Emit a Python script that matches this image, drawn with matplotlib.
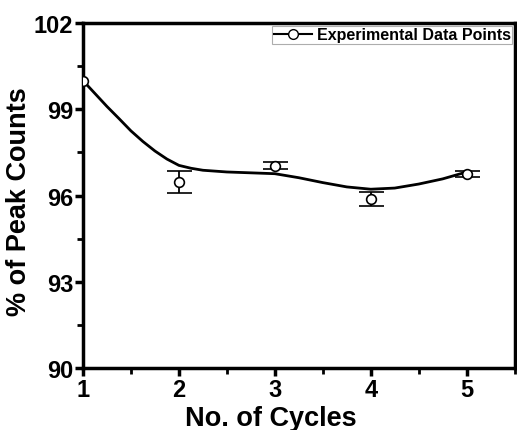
import numpy as np
import matplotlib.pyplot as plt
from matplotlib.lines import Line2D
from matplotlib.ticker import MultipleLocator

plt.rcParams['font.family'] = ['Liberation Sans', 'DejaVu Sans']
plt.rcParams['font.weight'] = 'bold'

# data points (no error bar on the first point)
cycles = [1, 2, 3, 4, 5]
counts = [100.0, 96.47, 97.03, 95.88, 96.75]
errors = [np.nan, 0.37, 0.12, 0.25, 0.12]

# smooth fitted curve
fit_x = [1, 1.125, 1.25, 1.375, 1.5, 1.625, 1.75, 1.875, 2, 2.125, 2.25, 2.5, 2.75,
         3, 3.25, 3.5, 3.75, 4, 4.25, 4.5, 4.75, 5]
fit_y = [100.0, 99.55, 99.1, 98.68, 98.25, 97.88, 97.55, 97.27, 97.05, 96.95, 96.88,
         96.82, 96.79, 96.76, 96.62, 96.45, 96.3, 96.22, 96.26, 96.4, 96.58, 96.82]

fig = plt.figure(figsize=(5.17, 4.31), dpi=100)
ax = fig.add_axes([0.1605, 0.144, 0.835, 0.8])

ax.plot(fit_x, fit_y, color='black', lw=2, solid_joinstyle='round')
ax.errorbar(cycles, counts, yerr=errors, fmt='o', mfc='white', mec='black', ms=7,
            mew=1.2, ecolor='black', elinewidth=1.3, capsize=9, capthick=1.5, zorder=3)

ax.set_xlim(1, 5.5)
ax.set_ylim(90, 102)
ax.xaxis.set_major_locator(MultipleLocator(1))
ax.xaxis.set_minor_locator(MultipleLocator(0.5))
ax.yaxis.set_major_locator(MultipleLocator(3))
ax.yaxis.set_minor_locator(MultipleLocator(1.5))
ax.tick_params(which='major', direction='out', length=6, width=2.5, labelsize=17)
ax.tick_params(which='minor', direction='out', length=4, width=2)
ax.tick_params(axis='x', pad=1)
ax.tick_params(axis='y', pad=1)
for s in ax.spines.values():
    s.set_linewidth(2.5)

ax.set_xlabel('No. of Cycles', fontsize=19.5, fontweight='bold')
ax.xaxis.set_label_coords(0.435, -0.107)
ax.set_ylabel('% of Peak Counts', fontsize=19.5, fontweight='bold')
ax.yaxis.set_label_coords(-0.118, 0.485)

handle = Line2D([], [], color='black', lw=1.5, marker='o', mfc='white', mec='black', ms=7)
leg = ax.legend([handle], ['Experimental Data Points'], loc='upper right',
                prop={'size': 11.5, 'weight': 'bold'}, fancybox=False, edgecolor='#999999',
                borderaxespad=0.15, borderpad=0.1, handlelength=2.4, handletextpad=0.3)
leg.get_frame().set_linewidth(0.8)

fig.savefig('out.png', dpi=100)
